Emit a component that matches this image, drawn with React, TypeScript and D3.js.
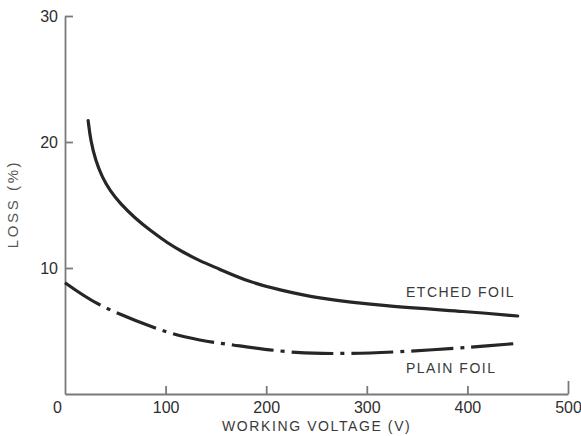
import React, { useEffect, useRef } from 'react'
import * as d3 from 'd3'

// values (volts, % loss)
const etchedVolts = [23, 25.5, 30.5, 37, 45, 55, 69, 85, 102, 117, 134, 151, 184, 214, 250, 316, 402, 450]
const etchedLoss = [21.7, 20.1, 18.5, 17.2, 16.1, 15.1, 14.0, 12.96, 11.98, 11.27, 10.56, 10.0, 8.85, 8.25, 7.6, 6.98, 6.53, 6.19]
const plainVolts = [0, 35, 101, 134, 167, 230, 280, 333, 400, 450]
const plainLoss = [8.83, 7.06, 4.94, 4.29, 3.89, 3.3, 3.22, 3.36, 3.7, 4.02]
const xTicks = [0, 100, 200, 300, 400, 500]
const yTicks = [10, 20, 30]

const W = 581
const H = 436

export default function App() {
  const ref = useRef<SVGSVGElement>(null)

  useEffect(() => {
    const svg = d3.select(ref.current)
    svg.selectAll('*').remove()

    const x = d3.scaleLinear().domain([0, 500]).range([65, 568])
    const y = d3.scaleLinear().domain([0, 30]).range([394, 16])
    const font = "'Liberation Sans', Arial, sans-serif"
    const axisGrey = '#7a7a7a'

    // axes (ticks point inward like the original)
    const yAxis = svg.append('g')
      .attr('transform', `translate(${x(0)},0)`)
      .call(d3.axisLeft(y).tickValues(yTicks).tickSize(0).tickPadding(7))
    const xAxis = svg.append('g')
      .attr('transform', `translate(0,${y(0)})`)
      .call(d3.axisBottom(x).tickValues(xTicks).tickSize(0).tickPadding(8))

    for (const g of [yAxis, xAxis]) {
      g.select('.domain').attr('stroke', axisGrey).attr('stroke-width', 1.8)
      g.selectAll('.tick text')
        .attr('fill', '#2e2e2e')
        .style('font-family', font)
        .style('font-size', '16px')
    }
    yAxis.selectAll('.tick line')
      .attr('x2', 8)
      .attr('stroke', axisGrey).attr('stroke-width', 1.8)
    xAxis.selectAll('.tick line')
      .attr('y2', (d: any) => (d === 500 ? -13 : d === 0 ? 0 : -8))
      .attr('stroke', axisGrey).attr('stroke-width', 1.8)
    xAxis.selectAll('.tick').filter((d: any) => d === 0).select('text').attr('x', -8)

    const etched = etchedVolts.map((v, i) => [v, etchedLoss[i]] as [number, number])
    const plain = plainVolts.map((v, i) => [v, plainLoss[i]] as [number, number])

    // basis smooths out the reading noise in the hand-drawn curve
    const smooth = d3.line<[number, number]>()
      .x(d => x(d[0]))
      .y(d => y(d[1]))
      .curve(d3.curveBasis)
    const through = d3.line<[number, number]>()
      .x(d => x(d[0]))
      .y(d => y(d[1]))
      .curve(d3.curveCatmullRom.alpha(0.5))

    svg.append('path')
      .attr('d', smooth(etched))
      .attr('fill', 'none')
      .attr('stroke', '#262626')
      .attr('stroke-width', 3.2)
      .attr('stroke-linecap', 'round')

    svg.append('path')
      .attr('d', through(plain))
      .attr('fill', 'none')
      .attr('stroke', '#262626')
      .attr('stroke-width', 3.2)
      .attr('stroke-dasharray', '42,7,4,7')

    // labels
    const label = (t: string, lx: number, ly: number, size: number, sp: number) =>
      svg.append('text')
        .attr('x', lx).attr('y', ly)
        .attr('fill', '#3a3a3a')
        .style('font-family', font)
        .style('font-size', size + 'px')
        .style('letter-spacing', sp + 'px')
        .text(t)

    label('ETCHED FOIL', 406, 297, 14, 1.5)
    label('PLAIN FOIL', 406, 373, 14, 1.5)
    label('WORKING VOLTAGE  (V)', 222, 431, 14, 1.6)

    svg.append('text')
      .attr('transform', 'translate(18,204) rotate(-90)')
      .attr('text-anchor', 'middle')
      .attr('fill', '#555')
      .style('font-family', font)
      .style('font-size', '15px')
      .style('letter-spacing', '2.6px')
      .text('LOSS  (%)')
  }, [])

  return (
    <div style={{ position: 'absolute', left: 0, top: 0, background: '#fff' }}>
      <svg ref={ref} width={W} height={H}></svg>
    </div>
  )
}
